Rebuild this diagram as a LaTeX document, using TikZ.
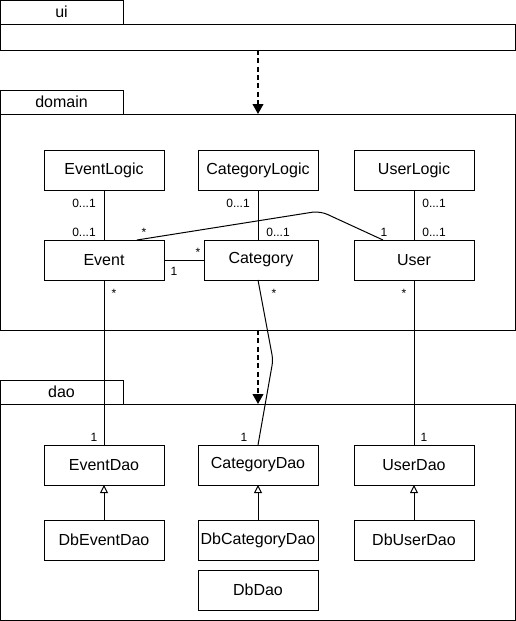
\documentclass[tikz,border=0pt]{standalone}
\usepackage{fontspec}
\setmainfont{Liberation Sans}
\usetikzlibrary{arrows.meta}
\begin{document}
\begin{tikzpicture}[x=0.75pt,y=-0.75pt,
  cls/.style={draw,line width=0.75pt,minimum width=90pt,minimum height=30pt,inner sep=0pt,outer sep=0pt,font=\fontsize{12pt}{14pt}\selectfont},
  tab/.style={draw,line width=0.75pt,minimum width=92.25pt,minimum height=18pt,inner sep=0pt,outer sep=0pt,font=\fontsize{12pt}{14pt}\selectfont},
  pkg/.style={draw,line width=0.75pt,minimum width=386.25pt,inner sep=0pt,outer sep=0pt},
  mult/.style={anchor=base,inner sep=0pt,font=\fontsize{9pt}{11pt}\selectfont},
  assoc/.style={line width=0.75pt},
  dep/.style={line width=1.5pt,dash pattern=on 3.75pt off 2.5pt,-{Triangle[width=8pt,length=7.5pt]}},
  gen/.style={line width=0.75pt,-{Triangle[open,width=6pt,length=6pt,fill=white]}}
]
\useasboundingbox (0,0) rectangle (516,621);

% packages
\node[tab] (uitab) at (61.5,12) {ui};
\node[pkg,minimum height=19.5pt] (uibody) at (257.5,37) {};
\node[tab] (domtab) at (61.5,102) {domain};
\node[pkg,minimum height=162pt] (dombody) at (257.5,222) {};
\node[tab] (daotab) at (61.5,392) {dao};
\node[pkg,minimum height=162pt] (daobody) at (257.5,512) {};

% domain classes
\node[cls] (eventlogic) at (104,170) {EventLogic};
\node[cls] (catlogic) at (258,170) {CategoryLogic};
\node[cls] (userlogic) at (414,170) {UserLogic};
\node[cls] (event) at (104,260) {Event};
\node[cls,minimum width=85.5pt] (category) at (261,260) {Category};
\node[cls] (user) at (414,260) {User};

% dao classes
\node[cls] (eventdao) at (104,465) {EventDao};
\node[cls] (catdao) at (258,465) {CategoryDao};
\node[cls] (userdao) at (414,465) {UserDao};
\node[cls] (dbeventdao) at (104,540) {DbEventDao};
\node[cls] (dbcatdao) at (258,540) {DbCategoryDao};
\node[cls] (dbuserdao) at (414,540) {DbUserDao};
\node[cls] (dbdao) at (258,590) {DbDao};

% package dependencies
\draw[dep] (uibody.south -| catlogic) -- (dombody.north -| catlogic);
\draw[dep] (dombody.south -| catlogic) -- (daobody.north -| catlogic);

% associations
\draw[assoc] (eventlogic) -- (event);
\draw[assoc] (catlogic.south) -- (catlogic.south |- category.north);
\draw[assoc] (userlogic) -- (user);
\draw[assoc] (event) -- (category);
\draw[assoc,rounded corners=6pt] ([xshift=24.75pt]event.north) -- (320,211) -- ([xshift=-23.25pt]user.north);
\draw[assoc] (event) -- (eventdao);
\draw[assoc,rounded corners=4pt] (catlogic |- category.south) -- (273,360) -- (catdao.north);
\draw[assoc] (user) -- (userdao);

% generalizations
\draw[gen] (dbeventdao) -- (eventdao);
\draw[gen] (dbcatdao) -- (catdao);
\draw[gen] (dbuserdao) -- (userdao);

% multiplicities
\node[mult] (m1) at (84,207) {0...1};
\node[mult] (m2) at (84,236) {0...1};
\node[mult] (m3) at (144,236) {*};
\node[mult] (m4) at (238,207) {0...1};
\node[mult] (m5) at (278,236) {0...1};
\node[mult] (m6) at (384,236) {1};
\node[mult] (m7) at (434,207) {0...1};
\node[mult] (m8) at (434,236) {0...1};
\node[mult] (m9) at (198,256) {*};
\node[mult] (m10) at (174,275) {1};
\node[mult] (m11) at (114,297) {*};
\node[mult] (m12) at (274,297) {*};
\node[mult] (m13) at (404,297) {*};
\node[mult] (m14) at (94,441) {1};
\node[mult] (m15) at (244,441) {1};
\node[mult] (m16) at (424,441) {1};
\end{tikzpicture}
\end{document}
